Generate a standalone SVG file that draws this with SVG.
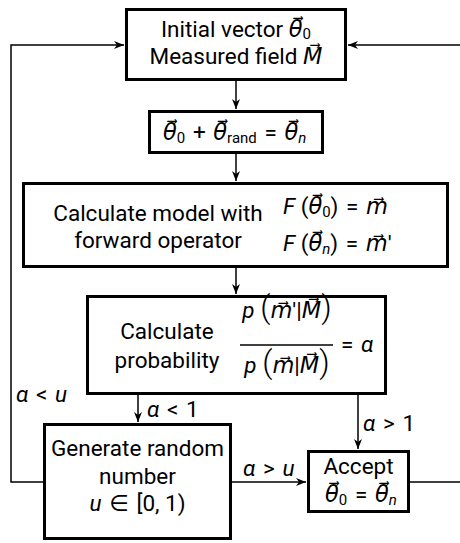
<svg xmlns="http://www.w3.org/2000/svg" width="460" height="543" viewBox="0 0 460 543">
<style>
.box{fill:#fff;stroke:#000;stroke-width:3}
.ln{fill:none;stroke:#000;stroke-width:1.5}
text{font-family:Roboto,"Open Sans","DejaVu Sans",sans-serif;font-size:22.5px;fill:#000}
.c{text-anchor:middle}
.m{font-style:italic}
.s{font-size:15px}
.p{font-size:32px;font-weight:300}
</style>
<defs>
<marker id="ah" markerWidth="10" markerHeight="8" refX="10" refY="4" orient="auto" markerUnits="userSpaceOnUse">
<path d="M0,0 L10,4 L0,8 L3,4 Z" fill="#000"/>
</marker>
</defs>
<g id="connectors">
<path class="ln" d="M43,482 H11 V45 H124" marker-end="url(#ah)"/>
<path class="ln" d="M460,45 H348" marker-end="url(#ah)"/>
<path class="ln" d="M410,482 H460"/>
<path class="ln" d="M236,81 V109" marker-end="url(#ah)"/>
<path class="ln" d="M236,154 V181" marker-end="url(#ah)"/>
<path class="ln" d="M236,268 V294" marker-end="url(#ah)"/>
<path class="ln" d="M138,395 V422" marker-end="url(#ah)"/>
<path class="ln" d="M358,395 V449" marker-end="url(#ah)"/>
<path class="ln" d="M232,482 H306" marker-end="url(#ah)"/>
<text x="16" y="402"><tspan class="m">α</tspan>&#x2004;&lt;&#x2004;<tspan class="m">u</tspan></text>
<text x="147" y="417"><tspan class="m">α</tspan>&#x2004;&lt;&#x2004;1</text>
<text x="363" y="431"><tspan class="m">α</tspan>&#x2004;&gt;&#x2004;1</text>
<text x="243" y="476"><tspan class="m">α</tspan>&#x2004;&gt;&#x2004;<tspan class="m">u</tspan></text>
</g>
<g id="init">
<rect class="box" x="126.5" y="9.5" width="219" height="70"/>
<text class="c" x="236" y="37">Initial vector <tspan class="m">θ⃗</tspan><tspan class="s" dy="2">0</tspan></text>
<text class="c" x="236" y="64">Measured field <tspan class="m">M⃗</tspan></text>
</g>
<g id="perturb">
<rect class="box" x="149.5" y="111.5" width="173" height="41"/>
<text x="163" y="140"><tspan class="m">θ⃗</tspan><tspan class="s" dy="3">0</tspan><tspan dy="-3">&#x2004;+&#x2004;</tspan><tspan class="m">θ⃗</tspan><tspan class="s" dy="3">rand</tspan><tspan dy="-3">&#x2004;=&#x2004;</tspan><tspan class="m">θ⃗</tspan><tspan class="s m" dy="3">n</tspan></text>
</g>
<g id="model">
<rect class="box" x="23.5" y="183.5" width="424" height="83"/>
<text class="c" x="158" y="221">Calculate model with</text>
<text class="c" x="158" y="248">forward operator</text>
<text x="283" y="214"><tspan class="m">F</tspan> (<tspan class="m">θ⃗</tspan><tspan class="s" dy="3">0</tspan><tspan dy="-3">)&#x2004;=&#x2004;</tspan><tspan class="m">m⃗</tspan></text>
<text x="283" y="251"><tspan class="m">F</tspan> (<tspan class="m">θ⃗</tspan><tspan class="s m" dy="3">n</tspan><tspan dy="-3">)&#x2004;=&#x2004;</tspan><tspan class="m">m⃗</tspan>′</text>
</g>
<g id="prob">
<rect class="box" x="87.5" y="296.5" width="298" height="97"/>
<text class="c" x="167" y="339">Calculate</text>
<text class="c" x="167" y="368">probability</text>
<text x="287" y="318" class="c"><tspan class="m">p</tspan> <tspan class="p">(</tspan><tspan class="m">m⃗</tspan>′|<tspan class="m">M⃗</tspan><tspan class="p">)</tspan></text>
<line x1="240" y1="345" x2="333" y2="345" stroke="#000" stroke-width="1.5"/>
<text x="287" y="373" class="c"><tspan class="m">p</tspan> <tspan class="p">(</tspan><tspan class="m">m⃗</tspan>|<tspan class="m">M⃗</tspan><tspan class="p">)</tspan></text>
<text x="341" y="352">=&#x2004;<tspan class="m">α</tspan></text>
</g>
<g id="random">
<rect class="box" x="44.5" y="424.5" width="186" height="114"/>
<text class="c" x="137.5" y="456">Generate random</text>
<text class="c" x="137.5" y="484">number</text>
<text class="c" x="137.5" y="511"><tspan class="m">u</tspan>&#x2004;∈&#x2004;[0, 1)</text>
</g>
<g id="accept">
<rect class="box" x="308.5" y="451.5" width="100" height="60"/>
<text class="c" x="358.5" y="474">Accept</text>
<text x="325" y="502"><tspan class="m">θ⃗</tspan><tspan class="s" dy="3">0</tspan><tspan dy="-3">&#x2004;=&#x2004;</tspan><tspan class="m">θ⃗</tspan><tspan class="s m" dy="3">n</tspan></text>
</g>
</svg>
